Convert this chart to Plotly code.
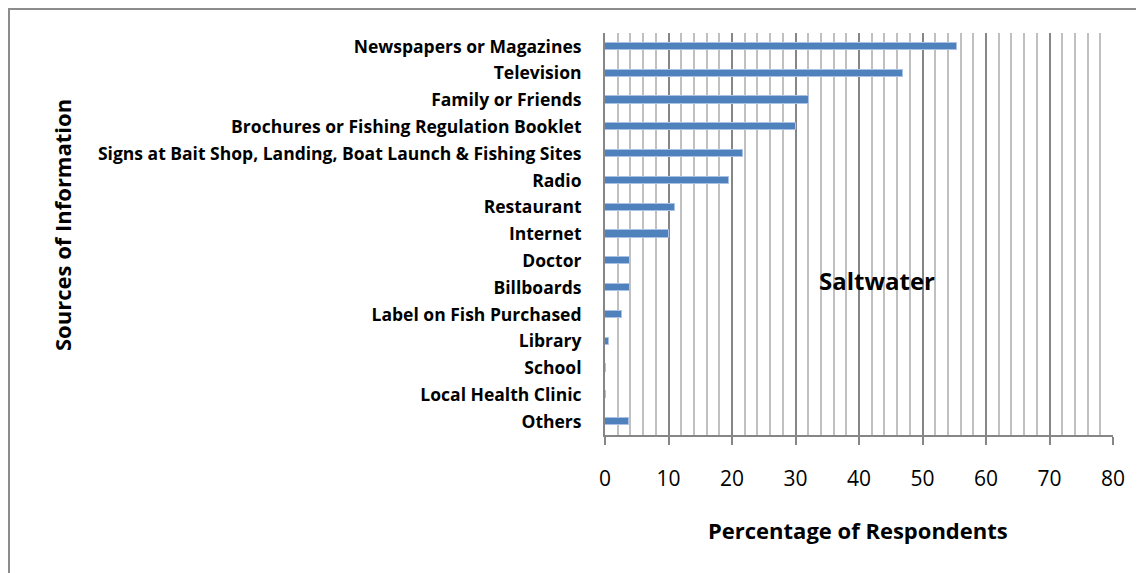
import plotly.graph_objects as go

# Sources of fish-consumption advisory information (saltwater respondents)
sources = [
    "Newspapers or Magazines",
    "Television",
    "Family or Friends",
    "Brochures or Fishing Regulation Booklet",
    "Signs at Bait Shop, Landing, Boat Launch & Fishing Sites",
    "Radio",
    "Restaurant",
    "Internet",
    "Doctor",
    "Billboards",
    "Label on Fish Purchased",
    "Library",
    "School",
    "Local Health Clinic",
    "Others",
]
pct = [55.5, 46.9, 32.1, 30.0, 21.7, 19.5, 11.0, 10.0, 3.9, 3.9, 2.7, 0.6, 0.2, 0.2, 3.7]
x_ticks = [0, 10, 20, 30, 40, 50, 60, 70, 80]

FONT = "Open Sans, Arial"
OFF = 8  # page body margin
W, H = 1144 - OFF, 573 - OFF
L, R, T, B = 605 - OFF, 1113 - OFF, 33 - OFF, 435 - OFF  # plot area in figure pixels


def px_x(p):
    return (p - OFF - L) / (R - L)


def px_y(p):
    return (B - (p - OFF)) / (B - T)


fig = go.Figure(go.Bar(
    x=pct,
    y=sources,
    orientation="h",
    width=0.27,
    marker=dict(color="#4f81bd", line=dict(color="#a9c1e2", width=1)),
    hovertemplate="%{y}: %{x}%<extra></extra>",
))

fig.update_layout(
    width=W,
    height=H,
    margin=dict(l=L, r=W - R, t=T, b=H - B),
    paper_bgcolor="white",
    plot_bgcolor="white",
    showlegend=False,
    font=dict(family=FONT, color="black"),
    bargap=0,
    xaxis=dict(
        range=[0, 80],
        tickvals=x_ticks,
        ticks="outside",
        ticklen=8,
        tickcolor="#868686",
        tickwidth=2,
        ticklabelstandoff=16,
        tickfont=dict(size=21, family=FONT),
        showgrid=True,
        gridcolor="#868686",
        gridwidth=2,
        minor=dict(dtick=2, showgrid=True, gridcolor="#c0c0c0", gridwidth=2, ticks=""),
        showline=True,
        linecolor="#868686",
        linewidth=2,
        zeroline=False,
        fixedrange=True,
    ),
    yaxis=dict(
        autorange="reversed",
        tickfont=dict(size=17.5, family=FONT, weight="bold"),
        ticklabelstandoff=18,
        ticks="",
        showline=True,
        linecolor="#868686",
        linewidth=2,
        showgrid=False,
        fixedrange=True,
    ),
    annotations=[
        dict(text="Sources of Information", xref="paper", yref="paper",
             x=px_x(62), y=px_y(225), xanchor="center", yanchor="middle",
             textangle=-90, showarrow=False,
             font=dict(size=22, family=FONT, weight="bold")),
        dict(text="Percentage of Respondents", xref="paper", yref="paper",
             x=px_x(858), y=px_y(530), xanchor="center", yanchor="middle",
             showarrow=False,
             font=dict(size=22, family=FONT, weight="bold")),
        dict(text="Saltwater", xref="paper", yref="paper",
             x=px_x(877), y=px_y(280), xanchor="center", yanchor="middle",
             showarrow=False,
             font=dict(size=24, family=FONT, weight="bold")),
    ],
    shapes=[
        dict(type="rect", xref="paper", yref="paper",
             x0=px_x(9), x1=px_x(1170), y0=px_y(600), y1=px_y(9),
             line=dict(color="#8c8c8c", width=2), fillcolor="rgba(0,0,0,0)",
             layer="below"),
    ],
)

fig.write_html("out.html")
